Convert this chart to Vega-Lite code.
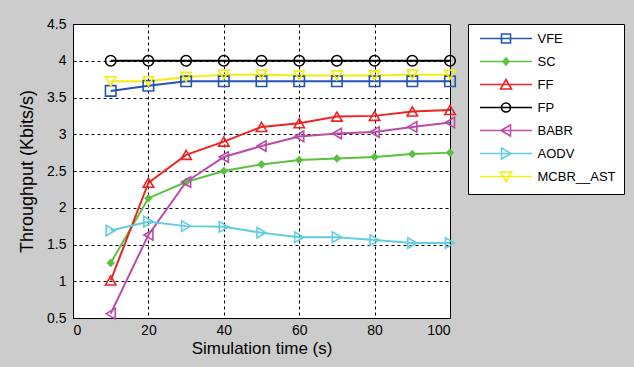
{
  "$schema": "https://vega.github.io/schema/vega-lite/v6.json",
  "width": 377,
  "height": 294,
  "autosize": "none",
  "padding": {"left": 73, "top": 24, "right": 184, "bottom": 49},
  "background": "#cccccc",
  "config": {
    "view": {"fill": "white", "stroke": "black", "strokeWidth": 1},
    "font": "Liberation Sans",
    "axis": {
      "grid": true,
      "gridColor": "black",
      "gridOpacity": 1,
      "gridDash": [3, 3],
      "gridWidth": 1,
      "domain": false,
      "ticks": false,
      "labelColor": "black",
      "labelFont": "Liberation Sans",
      "labelFontSize": 14,
      "titleFont": "Liberation Sans",
      "titleFontWeight": "normal",
      "titleColor": "black"
    },
    "legend": {
      "strokeColor": "black",
      "fillColor": "white",
      "padding": 8,
      "labelFont": "Liberation Sans",
      "labelFontSize": 13,
      "labelColor": "black"
    }
  },
  "data": {
    "values": [
      {"series": "VFE", "t": 10, "v": 3.59}, {"series": "VFE", "t": 20, "v": 3.66}, {"series": "VFE", "t": 30, "v": 3.72}, {"series": "VFE", "t": 40, "v": 3.72}, {"series": "VFE", "t": 50, "v": 3.72}, {"series": "VFE", "t": 60, "v": 3.72}, {"series": "VFE", "t": 70, "v": 3.72}, {"series": "VFE", "t": 80, "v": 3.72}, {"series": "VFE", "t": 90, "v": 3.72}, {"series": "VFE", "t": 100, "v": 3.72},
      {"series": "SC", "t": 10, "v": 1.25}, {"series": "SC", "t": 20, "v": 2.13}, {"series": "SC", "t": 30, "v": 2.35}, {"series": "SC", "t": 40, "v": 2.5}, {"series": "SC", "t": 50, "v": 2.59}, {"series": "SC", "t": 60, "v": 2.65}, {"series": "SC", "t": 70, "v": 2.67}, {"series": "SC", "t": 80, "v": 2.69}, {"series": "SC", "t": 90, "v": 2.73}, {"series": "SC", "t": 100, "v": 2.75},
      {"series": "FF", "t": 10, "v": 1.01}, {"series": "FF", "t": 20, "v": 2.34}, {"series": "FF", "t": 30, "v": 2.72}, {"series": "FF", "t": 40, "v": 2.9}, {"series": "FF", "t": 50, "v": 3.1}, {"series": "FF", "t": 60, "v": 3.15}, {"series": "FF", "t": 70, "v": 3.24}, {"series": "FF", "t": 80, "v": 3.25}, {"series": "FF", "t": 90, "v": 3.31}, {"series": "FF", "t": 100, "v": 3.33},
      {"series": "FP", "t": 10, "v": 4}, {"series": "FP", "t": 20, "v": 4}, {"series": "FP", "t": 30, "v": 4}, {"series": "FP", "t": 40, "v": 4}, {"series": "FP", "t": 50, "v": 4}, {"series": "FP", "t": 60, "v": 4}, {"series": "FP", "t": 70, "v": 4}, {"series": "FP", "t": 80, "v": 4}, {"series": "FP", "t": 90, "v": 4}, {"series": "FP", "t": 100, "v": 4},
      {"series": "BABR", "t": 10, "v": 0.56}, {"series": "BABR", "t": 20, "v": 1.63}, {"series": "BABR", "t": 30, "v": 2.35}, {"series": "BABR", "t": 40, "v": 2.69}, {"series": "BABR", "t": 50, "v": 2.84}, {"series": "BABR", "t": 60, "v": 2.97}, {"series": "BABR", "t": 70, "v": 3.01}, {"series": "BABR", "t": 80, "v": 3.03}, {"series": "BABR", "t": 90, "v": 3.1}, {"series": "BABR", "t": 100, "v": 3.16},
      {"series": "AODV", "t": 10, "v": 1.69}, {"series": "AODV", "t": 20, "v": 1.81}, {"series": "AODV", "t": 30, "v": 1.75}, {"series": "AODV", "t": 40, "v": 1.74}, {"series": "AODV", "t": 50, "v": 1.66}, {"series": "AODV", "t": 60, "v": 1.6}, {"series": "AODV", "t": 70, "v": 1.6}, {"series": "AODV", "t": 80, "v": 1.56}, {"series": "AODV", "t": 90, "v": 1.52}, {"series": "AODV", "t": 100, "v": 1.52},
      {"series": "MCBR__AST", "t": 10, "v": 3.72}, {"series": "MCBR__AST", "t": 20, "v": 3.72}, {"series": "MCBR__AST", "t": 30, "v": 3.78}, {"series": "MCBR__AST", "t": 40, "v": 3.81}, {"series": "MCBR__AST", "t": 50, "v": 3.81}, {"series": "MCBR__AST", "t": 60, "v": 3.8}, {"series": "MCBR__AST", "t": 70, "v": 3.8}, {"series": "MCBR__AST", "t": 80, "v": 3.8}, {"series": "MCBR__AST", "t": 90, "v": 3.81}, {"series": "MCBR__AST", "t": 100, "v": 3.81}
    ]
  },
  "encoding": {
    "x": {
      "field": "t", "type": "quantitative",
      "scale": {"domain": [0, 100], "nice": false},
      "axis": {"values": [0, 20, 40, 60, 80, 100], "title": "Simulation time (s)", "titleFontSize": 17, "labelPadding": 5, "titlePadding": 3}
    },
    "y": {
      "field": "v", "type": "quantitative",
      "scale": {"domain": [0.5, 4.5], "nice": false, "zero": false},
      "axis": {"values": [0.5, 1, 1.5, 2, 2.5, 3, 3.5, 4, 4.5], "format": "~g", "title": "Throughput (Kbits/s)", "titleFontSize": 18, "labelPadding": 7, "titlePadding": 10}
    }
  },
  "layer": [
    {
      "mark": {"type": "line", "strokeWidth": 2},
      "encoding": {
        "color": {
          "field": "series", "type": "nominal", "legend": null,
          "scale": {"domain": ["VFE", "SC", "FF", "FP", "BABR", "AODV", "MCBR__AST"], "range": ["#2455b2", "#5cc040", "#ee2222", "#000000", "#b84ca8", "#62cde0", "#f2ee10"]}
        },
        "order": {"field": "t"}
      }
    },
    {
      "mark": {"type": "point", "filled": false, "size": 110, "strokeWidth": 1.6, "opacity": 1},
      "encoding": {
        "color": {
          "field": "series", "type": "nominal", "legend": null,
          "scale": {"domain": ["VFE", "SC", "FF", "FP", "BABR", "AODV", "MCBR__AST"], "range": ["#2455b2", "#5cc040", "#ee2222", "#000000", "#b84ca8", "#62cde0", "#f2ee10"]}
        },
        "fill": {"condition": {"test": "datum.series === 'SC'", "value": "#5cc040"}, "value": "transparent"},
        "shape": {
          "field": "series", "type": "nominal", "legend": null,
          "scale": {"domain": ["VFE", "SC", "FF", "FP", "BABR", "AODV", "MCBR__AST"], "range": ["square", "M0,-0.6L0.6,0L0,0.6L-0.6,0Z", "triangle-up", "circle", "triangle-left", "triangle-right", "triangle-down"]}
        }
      }
    },
    {
      "mark": {"type": "point", "filled": false, "size": 100, "strokeWidth": 1.6, "opacity": 0},
      "encoding": {
        "color": {
          "field": "series", "type": "nominal", "title": null,
          "scale": {"domain": ["VFE", "SC", "FF", "FP", "BABR", "AODV", "MCBR__AST"], "range": ["#2455b2", "#5cc040", "#ee2222", "#000000", "#b84ca8", "#62cde0", "#f2ee10"]},
          "legend": {"orient": "right", "offset": 14, "symbolSize": 100, "symbolStrokeWidth": 1.6, "symbolOffset": 23.5, "labelOffset": 25, "rowPadding": 4, "symbolFillColor": "transparent"}
        },
        "shape": {
          "field": "series", "type": "nominal", "title": null,
          "scale": {"domain": ["VFE", "SC", "FF", "FP", "BABR", "AODV", "MCBR__AST"], "range": [
            "M0,-1.25M0,1.25M-5.2,0H5.2M-0.9,-0.9H0.9V0.9H-0.9Z",
            "M0,-1.25M0,1.25M-5.2,0H5.2M0,-0.7L0.6,0L0,0.7L-0.6,0ZM0,-0.7V0.7M-0.6,0H0.6",
            "M0,-1.25M0,1.25M-5.2,0H5.2M0,-1L1.1,0.9H-1.1Z",
            "M0,-1.25M0,1.25M-5.2,0H5.2M0.9,0A0.9,0.9,0,1,1,-0.9,0A0.9,0.9,0,1,1,0.9,0Z",
            "M0,-1.25M0,1.25M-5.2,0H5.2M-1,0L0.9,-1.1V1.1Z",
            "M0,-1.25M0,1.25M-5.2,0H5.2M1,0L-0.9,-1.1V1.1Z",
            "M0,-1.25M0,1.25M-5.2,0H5.2M0,1L1.1,-0.9H-1.1Z"
          ]},
          "legend": {"orient": "right", "offset": 14, "symbolSize": 100, "symbolStrokeWidth": 1.6, "symbolOffset": 23.5, "labelOffset": 25, "rowPadding": 4, "symbolFillColor": "transparent"}
        }
      }
    }
  ],
  "resolve": {"scale": {"color": "independent", "shape": "independent"}}
}
